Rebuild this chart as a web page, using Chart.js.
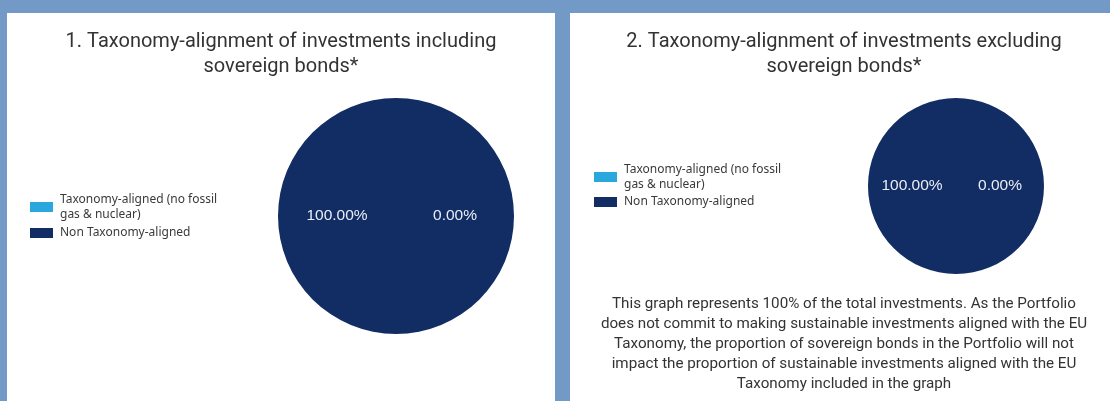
<!DOCTYPE html>
<html lang="en">
<head>
<meta charset="UTF-8">
<title>Taxonomy-alignment of investments</title>
<script src="https://cdn.jsdelivr.net/npm/chart.js"></script>
<style>
    html, body { margin: 0; padding: 0; }
    body {
        width: 1110px;
        height: 401px;
        background: #7399c7;
        position: relative;
        overflow: hidden;
    }
    .panel {
        position: absolute;
        top: 13px;
        height: 388px;
        width: 548px;
        background: #fff;
    }
    #panelIncl { left: 7px; }
    #panelExcl { left: 570px; }
</style>
</head>
<body>
<div class="panel" id="panelIncl"><canvas id="chartIncl"></canvas></div>
<div class="panel" id="panelExcl"><canvas id="chartExcl"></canvas></div>

<script>
// data
const categories = ['Taxonomy-aligned (no fossil gas & nuclear)', 'Non Taxonomy-aligned'];
const legendLines = [['Taxonomy-aligned (no fossil', 'gas & nuclear)'], ['Non Taxonomy-aligned']];
const valuesIncl = [0, 100];
const valuesExcl = [0, 100];
const titleIncl = ['1. Taxonomy-alignment of investments including', 'sovereign bonds*'];
const titleExcl = ['2. Taxonomy-alignment of investments excluding', 'sovereign bonds*'];
const noteExcl = [
    'This graph represents 100% of the total investments. As the Portfolio',
    'does not commit to making sustainable investments aligned with the EU',
    'Taxonomy, the proportion of sovereign bonds in the Portfolio will not',
    'impact the proportion of sustainable investments aligned with the EU',
    'Taxonomy included in the graph'
];
const sliceColors = ['#2aa8de', '#122d63'];

// puts the pie where it sits in the picture (title stays centred on the panel)
const pieBox = {
    id: 'pieBox',
    afterLayout(chart, args, opts) {
        const a = chart.chartArea;
        a.left = opts.cx - opts.r;
        a.right = opts.cx + opts.r;
        a.top = opts.cy - opts.r;
        a.bottom = opts.cy + opts.r;
        a.width = 2 * opts.r;
        a.height = 2 * opts.r;
    }
};

// percentage labels inside the pie
const pctLabels = {
    id: 'pctLabels',
    afterDatasetsDraw(chart) {
        const ctx = chart.ctx;
        const ds = chart.data.datasets[0];
        ctx.save();
        ctx.fillStyle = '#e9eef7';
        ctx.font = '15.5px "Liberation Sans", Arial, sans-serif';
        ctx.textAlign = 'center';
        ctx.textBaseline = 'middle';
        chart.getDatasetMeta(0).data.forEach((arc, i) => {
            const p = arc.tooltipPosition(true);
            ctx.fillText(ds.data[i].toFixed(2) + '%', p.x, p.y);
        });
        ctx.restore();
    }
};

// legend on the left, with wrapped labels
const sideLegend = {
    id: 'sideLegend',
    afterDraw(chart, args, opts) {
        const ctx = chart.ctx;
        const colors = chart.data.datasets[0].backgroundColor;
        ctx.save();
        ctx.font = '12px "Noto Sans", sans-serif';
        ctx.textBaseline = 'middle';
        ctx.textAlign = 'left';
        let y = opts.y;
        legendLines.forEach((lines, i) => {
            ctx.fillStyle = colors[i];
            ctx.fillRect(opts.x, y, 23, 10);
            ctx.fillStyle = '#3a3a3a';
            const mid = y + 5;
            if (lines.length === 1) {
                ctx.fillText(lines[0], opts.x + 30, mid);
            } else {
                ctx.fillText(lines[0], opts.x + 30, mid - 7);
                ctx.fillText(lines[1], opts.x + 30, mid + 8);
            }
            y += opts.step;
        });
        ctx.restore();
    }
};

function makePie(canvasId, values, title, note, box, legendPos) {
    return new Chart(document.getElementById(canvasId), {
        type: 'pie',
        data: {
            labels: categories,
            datasets: [{
                data: values,
                backgroundColor: sliceColors,
                borderWidth: 0,
                clip: false
            }]
        },
        options: {
            responsive: true,
            maintainAspectRatio: false,
            animation: false,
            events: [],
            rotation: 90,
            plugins: {
                legend: { display: false },
                tooltip: { enabled: false },
                title: {
                    display: true,
                    text: title,
                    color: '#333',
                    font: { family: 'Roboto, sans-serif', size: 20, weight: 'normal', lineHeight: 1.25 },
                    padding: { top: 16, bottom: 0 }
                },
                subtitle: {
                    display: note.length > 0,
                    position: 'bottom',
                    text: note,
                    color: '#333',
                    font: { family: 'Roboto, sans-serif', size: 15.2, weight: 'normal', lineHeight: '20px' },
                    padding: { top: 0, bottom: 7 }
                },
                pieBox: box,
                sideLegend: legendPos
            }
        },
        plugins: [pieBox, pctLabels, sideLegend]
    });
}

makePie('chartIncl', valuesIncl, titleIncl, [], { cx: 389, cy: 203, r: 118 }, { x: 23, y: 189, step: 26 });
makePie('chartExcl', valuesExcl, titleExcl, noteExcl, { cx: 386, cy: 173, r: 88 }, { x: 24, y: 159, step: 25 });
</script>
</body>
</html>
